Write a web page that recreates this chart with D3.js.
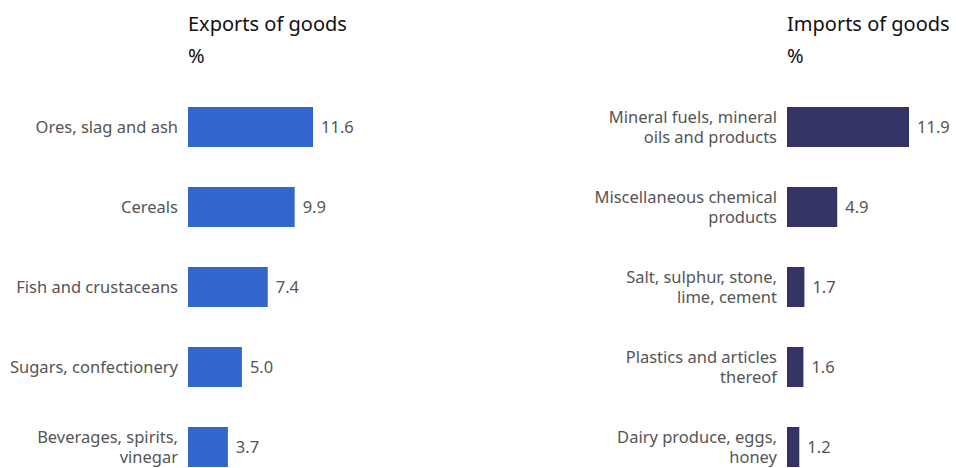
<!DOCTYPE html>
<html>
<head>
<meta charset="utf-8">
<script src="https://cdn.jsdelivr.net/npm/d3@7"></script>
<style>
  body { margin: 0; background: #fff; }
  svg text { font-family: "Noto Sans", "Open Sans", sans-serif; }
</style>
</head>
<body>
<svg id="chart" width="956" height="468"></svg>
<script>
// exports of goods, %
const exportLabels = [
  ['Ores, slag and ash'],
  ['Cereals'],
  ['Fish and crustaceans'],
  ['Sugars, confectionery'],
  ['Beverages, spirits,', 'vinegar']
];
const exportValues = [11.6, 9.9, 7.4, 5.0, 3.7];

// imports of goods, %
const importLabels = [
  ['Mineral fuels, mineral', 'oils and products'],
  ['Miscellaneous chemical', 'products'],
  ['Salt, sulphur, stone,', 'lime, cement'],
  ['Plastics and articles', 'thereof'],
  ['Dairy produce, eggs,', 'honey']
];
const importValues = [11.9, 4.9, 1.7, 1.6, 1.2];

const svg = d3.select('#chart');

function panel(opts) {
  const g = svg.append('g').attr('transform', `translate(${opts.x0},0)`);

  const x = d3.scaleLinear().domain([0, opts.maxVal]).range([0, opts.maxW]);
  const y = d3.scaleBand()
    .domain(d3.range(opts.values.length))
    .range([107, 467])
    .paddingInner(0.5)
    .paddingOuter(0);

  // title
  g.append('text')
    .attr('x', 0).attr('y', 31)
    .attr('font-size', 20).attr('fill', '#111')
    .text(opts.title);
  g.append('text')
    .attr('x', 0).attr('y', 63)
    .attr('font-size', 20).attr('fill', '#111')
    .text('%');

  const rows = g.selectAll('.row')
    .data(opts.values)
    .enter().append('g')
    .attr('class', 'row')
    .attr('transform', (d, i) => `translate(0,${y(i)})`);

  rows.append('rect')
    .attr('width', d => x(d))
    .attr('height', y.bandwidth())
    .attr('fill', opts.color);

  rows.append('text')
    .attr('x', d => x(d) + 8)
    .attr('y', y.bandwidth() / 2)
    .attr('dy', '0.35em')
    .attr('font-size', 16.5)
    .attr('fill', '#555')
    .text(d => d.toFixed(1));

  rows.each(function(d, i) {
    const lines = opts.labels[i];
    const t = d3.select(this).append('text')
      .attr('text-anchor', 'end')
      .attr('font-size', 16.5)
      .attr('fill', '#555');
    const lh = 20;
    const start = y.bandwidth() / 2 - (lines.length - 1) * lh / 2;
    lines.forEach((l, k) => {
      t.append('tspan')
        .attr('x', -10)
        .attr('y', start + k * lh)
        .attr('dy', '0.35em')
        .text(l);
    });
  });
}

panel({
  x0: 188, title: 'Exports of goods', labels: exportLabels, values: exportValues,
  maxVal: 11.6, maxW: 125, color: '#3366cc'
});
panel({
  x0: 787, title: 'Imports of goods', labels: importLabels, values: importValues,
  maxVal: 11.9, maxW: 122, color: '#333366'
});
</script>
</body>
</html>
